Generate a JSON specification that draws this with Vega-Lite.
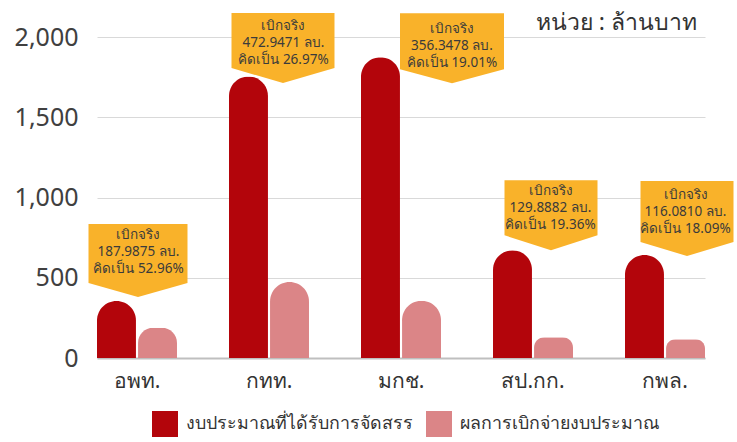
{
  "$schema": "https://vega.github.io/schema/vega-lite/v6.json",
  "width": 608,
  "height": 321,
  "autosize": {"type": "none"},
  "padding": {"left": 97, "top": 37, "right": 32, "bottom": 84},
  "background": "white",
  "config": {"font": "Noto Sans", "view": {"stroke": null}},
  "title": {"text": "หน่วย : ล้านบาท", "anchor": "end", "frame": "group", "fontSize": 23, "fontWeight": "normal", "color": "#333333", "baseline": "alphabetic", "offset": -40, "dx": -8},
  "data": {"values": [
    {"cat": "อพท.", "งบประมาณที่ได้รับการจัดสรร": 354.96, "ผลการเบิกจ่ายงบประมาณ": 187.9875, "label": "เบิกจริง\n187.9875 ลบ.\nคิดเป็น 52.96%"},
    {"cat": "กทท.", "งบประมาณที่ได้รับการจัดสรร": 1753.62, "ผลการเบิกจ่ายงบประมาณ": 472.9471, "label": "เบิกจริง\n472.9471 ลบ.\nคิดเป็น 26.97%"},
    {"cat": "มกช.", "งบประมาณที่ได้รับการจัดสรร": 1874.53, "ผลการเบิกจ่ายงบประมาณ": 356.3478, "label": "เบิกจริง\n356.3478 ลบ.\nคิดเป็น 19.01%"},
    {"cat": "สป.กก.", "งบประมาณที่ได้รับการจัดสรร": 670.91, "ผลการเบิกจ่ายงบประมาณ": 129.8882, "label": "เบิกจริง\n129.8882 ลบ.\nคิดเป็น 19.36%"},
    {"cat": "กพล.", "งบประมาณที่ได้รับการจัดสรร": 641.69, "ผลการเบิกจ่ายงบประมาณ": 116.081, "label": "เบิกจริง\n116.0810 ลบ.\nคิดเป็น 18.09%"}
  ]},
  "layer": [
    {
      "transform": [{"fold": ["งบประมาณที่ได้รับการจัดสรร", "ผลการเบิกจ่ายงบประมาณ"], "as": ["series", "value"]}],
      "mark": {"type": "bar", "cornerRadiusEnd": 19.5},
      "encoding": {
        "x": {"field": "cat", "type": "nominal", "sort": null, "title": null,
              "scale": {"domain": ["อพท.", "กทท.", "มกช.", "สป.กก.", "กพล."], "paddingInner": 0.394, "paddingOuter": 0},
              "axis": {"domain": true, "domainColor": "#bfbfbf", "domainWidth": 2, "ticks": false, "grid": false, "labelAngle": 0, "labelFontSize": 21, "labelColor": "#333333", "labelPadding": 12}},
        "xOffset": {"field": "series", "type": "nominal", "scale": {"domain": ["งบประมาณที่ได้รับการจัดสรร", "ผลการเบิกจ่ายงบประมาณ"], "paddingInner": 0.05, "paddingOuter": 0}},
        "y": {"field": "value", "type": "quantitative", "title": null,
              "scale": {"domain": [0, 2000], "nice": false},
              "axis": {"values": [0, 500, 1000, 1500, 2000], "format": ",.0f", "grid": true, "gridColor": "#d9d9d9", "domain": false, "ticks": false, "labelFontSize": 25, "labelColor": "#404040", "labelPadding": 19}},
        "color": {"field": "series", "type": "nominal",
                  "scale": {"domain": ["งบประมาณที่ได้รับการจัดสรร", "ผลการเบิกจ่ายงบประมาณ"], "range": ["#B3050B", "#DB8587"]},
                  "legend": {"orient": "none", "legendX": 55, "legendY": 374, "direction": "horizontal", "title": null, "symbolType": "square", "symbolSize": 676, "symbolStrokeWidth": 0, "labelFontSize": 17.8, "labelColor": "#333333", "labelLimit": 400, "columnPadding": 13, "labelOffset": 8, "padding": 0}}
      }
    },
    {
      "transform": [{"filter": "datum.cat === 'อพท.'"}],
      "encoding": {"x": {"field": "cat", "type": "nominal", "sort": null, "title": null}, "y": {"field": "งบประมาณที่ได้รับการจัดสรร", "type": "quantitative", "title": null}},
      "layer": [
        {"mark": {"type": "point", "shape": "M-1,-1.475L1,-1.475L1,-0.283L0,0L-1,-0.283Z", "size": 9801, "filled": true, "color": "#F9B22A", "opacity": 1, "strokeWidth": 0, "xOffset": 1, "yOffset": -4}},
        {"mark": {"type": "text", "lineBreak": "\n", "fontSize": 13.5, "lineHeight": 17, "color": "#3b3b3b", "align": "center", "baseline": "middle", "xOffset": 1.5, "yOffset": -66}, "encoding": {"text": {"field": "label"}}}
      ]
    },
    {
      "transform": [{"filter": "datum.cat === 'กทท.'"}],
      "encoding": {"x": {"field": "cat", "type": "nominal", "sort": null, "title": null}, "y": {"field": "งบประมาณที่ได้รับการจัดสรร", "type": "quantitative", "title": null}},
      "layer": [
        {"mark": {"type": "point", "shape": "M-1,-1.359L1,-1.359L1,-0.291L0,0L-1,-0.291Z", "size": 10609, "filled": true, "color": "#F9B22A", "opacity": 1, "strokeWidth": 0, "xOffset": 14, "yOffset": 6.5}},
        {"mark": {"type": "text", "lineBreak": "\n", "fontSize": 13.5, "lineHeight": 17, "color": "#3b3b3b", "align": "center", "baseline": "middle", "xOffset": 14.5, "yOffset": -50.5}, "encoding": {"text": {"field": "label"}}}
      ]
    },
    {
      "transform": [{"filter": "datum.cat === 'มกช.'"}],
      "encoding": {"x": {"field": "cat", "type": "nominal", "sort": null, "title": null}, "y": {"field": "งบประมาณที่ได้รับการจัดสรร", "type": "quantitative", "title": null}},
      "layer": [
        {"mark": {"type": "point", "shape": "M-1,-1.346L1,-1.346L1,-0.269L0,0L-1,-0.269Z", "size": 10816, "filled": true, "color": "#F9B22A", "opacity": 1, "strokeWidth": 0, "xOffset": 51, "yOffset": 26}},
        {"mark": {"type": "text", "lineBreak": "\n", "fontSize": 13.5, "lineHeight": 17, "color": "#3b3b3b", "align": "center", "baseline": "middle", "xOffset": 51, "yOffset": -28}, "encoding": {"text": {"field": "label"}}}
      ]
    },
    {
      "transform": [{"filter": "datum.cat === 'สป.กก.'"}],
      "encoding": {"x": {"field": "cat", "type": "nominal", "sort": null, "title": null}, "y": {"field": "งบประมาณที่ได้รับการจัดสรร", "type": "quantitative", "title": null}},
      "layer": [
        {"mark": {"type": "point", "shape": "M-1,-1.505L1,-1.505L1,-0.323L0,0L-1,-0.323Z", "size": 8649, "filled": true, "color": "#F9B22A", "opacity": 1, "strokeWidth": 0, "xOffset": 18, "yOffset": 0}},
        {"mark": {"type": "text", "lineBreak": "\n", "fontSize": 13.5, "lineHeight": 17, "color": "#3b3b3b", "align": "center", "baseline": "middle", "xOffset": 17.5, "yOffset": -59}, "encoding": {"text": {"field": "label"}}}
      ]
    },
    {
      "transform": [{"filter": "datum.cat === 'กพล.'"}],
      "encoding": {"x": {"field": "cat", "type": "nominal", "sort": null, "title": null}, "y": {"field": "งบประมาณที่ได้รับการจัดสรร", "type": "quantitative", "title": null}},
      "layer": [
        {"mark": {"type": "point", "shape": "M-1,-1.613L1,-1.613L1,-0.301L0,0L-1,-0.301Z", "size": 8649, "filled": true, "color": "#F9B22A", "opacity": 1, "strokeWidth": 0, "xOffset": 22, "yOffset": 1}},
        {"mark": {"type": "text", "lineBreak": "\n", "fontSize": 13.5, "lineHeight": 17, "color": "#3b3b3b", "align": "center", "baseline": "middle", "xOffset": 20.5, "yOffset": -60}, "encoding": {"text": {"field": "label"}}}
      ]
    }
  ]
}
